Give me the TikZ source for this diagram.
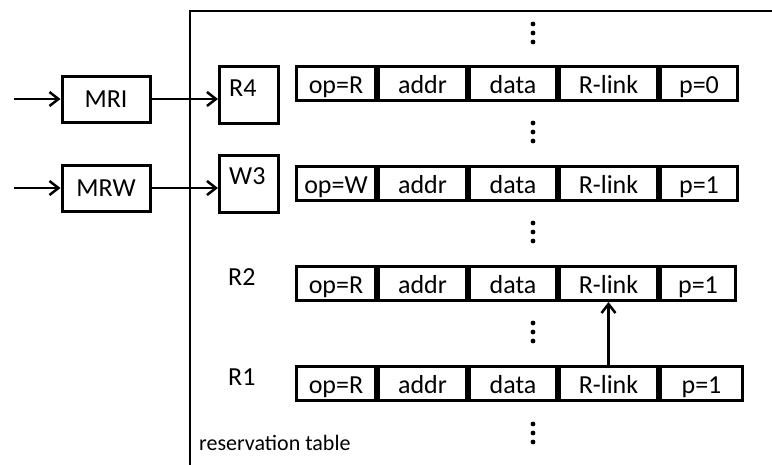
\documentclass[tikz,border=0pt]{standalone}
\usepackage{fontspec}
\setmainfont{Carlito}
\usetikzlibrary{arrows.meta}

\tikzset{
  cell/.style={draw, line width=3pt, minimum height=34pt, inner sep=0pt,
    text height=20pt, text depth=0pt, anchor=west},
  unitbox/.style={draw, line width=3pt, inner sep=0pt},
  arr/.style={line width=2.5pt, -{Straight Barb[length=9pt,width=14pt,line width=2.5pt]}},
  frameline/.style={line width=2pt},
  lbl/.style={inner sep=0pt, anchor=west},
}

% one entry of the reservation table: name, top edge, op text, p text, width of last field
\newcommand{\resrow}[5]{%
  \node[cell, minimum width=79pt, anchor=north west] (#1op) at (295,#2) {#3};
  \node[cell, minimum width=88pt] (#1addr) at (#1op.east) {addr};
  \node[cell, minimum width=87pt] (#1data) at (#1addr.east) {data};
  \node[cell, minimum width=98pt] (#1link) at (#1data.east) {R-link};
  \node[cell, minimum width=#5pt] (#1p) at (#1link.east) {#4};
}

\begin{document}
\begin{tikzpicture}[x=1pt, y=-1pt, font=\fontsize{26}{30}\selectfont]
  \useasboundingbox (0,0) rectangle (772,464);

  % reservation table outline (open to the right and bottom)
  \coordinate (fb) at (190,470);
  \coordinate (fc) at (190,11);
  \coordinate (fr) at (780,11);
  \draw[frameline] (fb) -- (fc) -- (fr);
  \node[lbl, font=\fontsize{22}{26}\selectfont] (rtab) at (199,443) {reservation table};

  % request queues
  \node[unitbox, minimum width=88pt, minimum height=46pt] (MRI) at (106,99) {MRI};
  \node[unitbox, minimum width=88pt, minimum height=46pt] (MRW) at (106,188) {MRW};
  \coordinate (inI) at (14,99);
  \coordinate (inW) at (14,188);
  \draw[arr] (inI) -- (MRI.west);
  \draw[arr] (inW) -- (MRW.west);

  % entry pointers
  \node[unitbox, minimum width=59pt, minimum height=57pt, anchor=north west] (R4) at (218,65) {};
  \node[unitbox, minimum width=59pt, minimum height=57pt, anchor=north west] (W3) at (218,154) {};
  \node[lbl] (R4t) at (229,88) {R4};
  \node[lbl] (W3t) at (229,176) {W3};
  \draw[arr] (MRI.east) -- (MRI.east -| R4.west);
  \draw[arr] (MRW.east) -- (MRW.east -| W3.west);

  % table entries
  \resrow{a}{65}{op=R}{p=0}{77}
  \resrow{b}{165}{op=W}{p=1}{77}
  \resrow{c}{265}{op=R}{p=1}{75}
  \resrow{d}{365}{op=R}{p=1}{82}
  \node[lbl] (R2t) at (228,277) {R2};
  \node[lbl] (R1t) at (228,377) {R1};

  % link from R1 to R2
  \draw[arr] (dlink.north) -- (clink.south);

  % vertical ellipses between entries
  \foreach \n/\yy in {d1/33, d2/132, d3/232, d4/332, d5/433} {
    \coordinate (\n) at (533,\yy);
    \foreach \k in {-9,0,9}
      \fill ([yshift=\k pt]\n) circle (2.4pt);
  }
\end{tikzpicture}
\end{document}
